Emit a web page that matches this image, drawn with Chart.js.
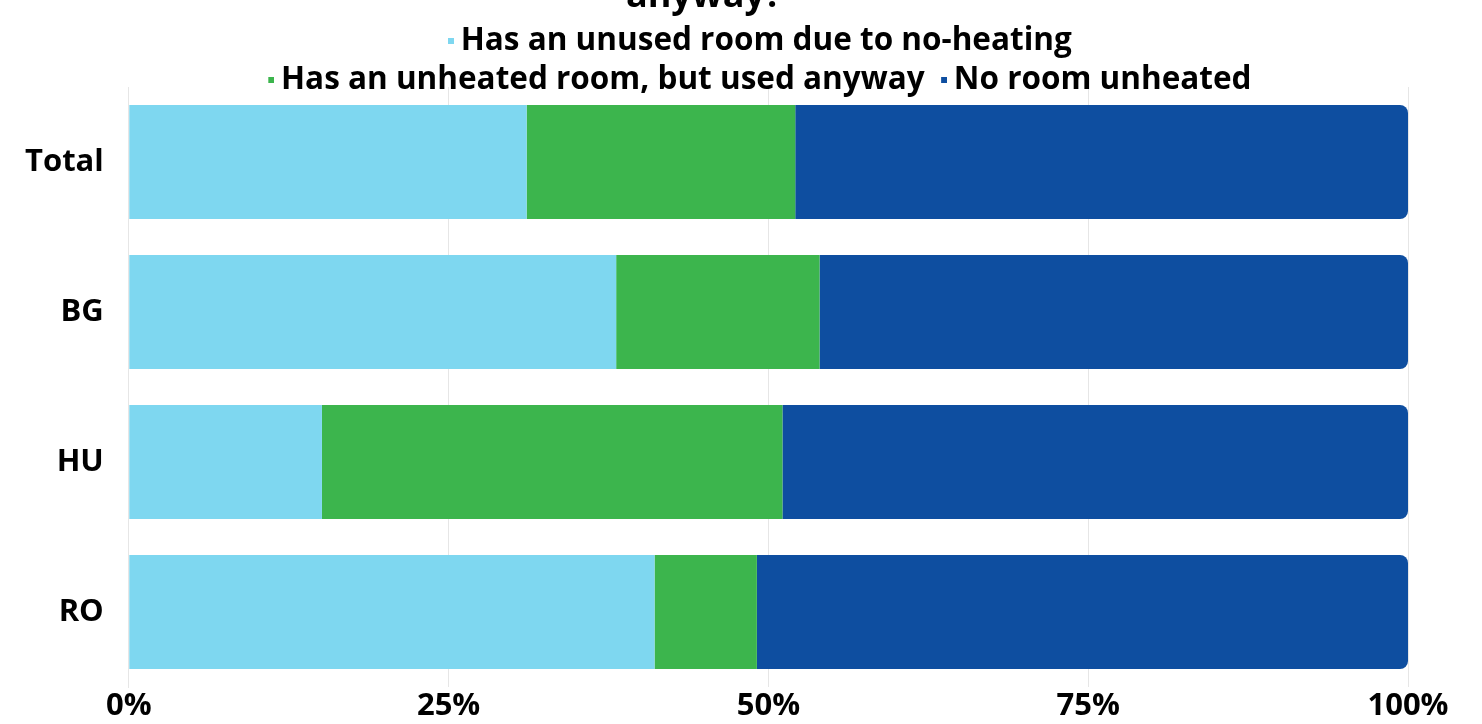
<!DOCTYPE html>
<html><head><meta charset="utf-8">
<script src="https://cdn.jsdelivr.net/npm/chart.js@4"></script>
<style>
html,body{margin:0;padding:0;background:#fff;overflow:hidden;width:1482px;height:724px;}
#wrap{position:absolute;left:0;top:-21px;width:1482px;height:753px;}
</style></head><body>
<div id="wrap"><canvas id="c"></canvas></div>
<script>
const categories = ['Total', 'BG', 'HU', 'RO'];
const seriesLabels = ['Has an unused room due to no-heating', 'Has an unheated room, but used anyway', 'No room unheated'];
const unusedRoom = [31.1, 38.1, 15.1, 41.1];
const unheatedUsed = [21.0, 15.9, 36.0, 8.0];
const noRoomUnheated = [47.9, 46.0, 48.9, 50.9];
const xTickLabels = ['0%', '25%', '50%', '75%', '100%'];
const titleText = ['anyway?'];
const colors = ['#7ED7F0', '#3CB54D', '#0E4EA0'];

const FONT = 'Open Sans';

// small square legend marker placed close to its label
function marker(color) {
  const c = document.createElement('canvas');
  c.width = 24; c.height = 6;
  const g = c.getContext('2d');
  g.fillStyle = color;
  g.fillRect(18, 0, 6, 6);
  return c;
}

const legendTrim = {
  id: 'legendTrim',
  afterInit(chart) {
    const lg = chart.legend;
    if (!lg) return;
    const f = lg.fit;
    lg.fit = function () { f.call(this); this.height = Math.max(0, this.height - 16); };
  },
  afterLayout(chart) {
    const lg = chart.legend;
    if (!lg) return;
    lg.top += 3;
    lg.bottom += 19;
    lg.height += 16;
    lg.left -= 13;
    lg.right -= 13;
  }
};

new Chart(document.getElementById('c'), {
  type: 'bar',
  data: {
    labels: categories,
    datasets: [
      { label: seriesLabels[0], data: unusedRoom, backgroundColor: colors[0], borderWidth: 0, pointStyle: marker(colors[0]) },
      { label: seriesLabels[1], data: unheatedUsed, backgroundColor: colors[1], borderWidth: 0, pointStyle: marker(colors[1]) },
      { label: seriesLabels[2], data: noRoomUnheated, backgroundColor: colors[2], borderWidth: 0, borderRadius: 8, borderSkipped: 'start', pointStyle: marker(colors[2]) }
    ]
  },
  options: {
    indexAxis: 'y',
    responsive: true,
    maintainAspectRatio: false,
    animation: false,
    barPercentage: 0.95,
    categoryPercentage: 0.8,
    layout: { padding: { left: 0, right: 74, top: 0, bottom: 6 } },
    plugins: {
      title: {
        display: true,
        text: titleText,
        color: '#000',
        font: { family: FONT, size: 36, weight: 'bold', lineHeight: 1.0 },
        padding: { top: 0, bottom: 0 }
      },
      legend: {
        position: 'top',
        fullSize: false,
        labels: {
          usePointStyle: true,
          boxWidth: 6,
          boxHeight: 6,
          padding: 7.5,
          color: '#000',
          font: { family: FONT, size: 31.5, weight: 'bold' }
        }
      },
      tooltip: { enabled: false }
    },
    scales: {
      x: {
        stacked: true,
        min: 0,
        max: 100,
        ticks: {
          stepSize: 25,
          padding: 4,
          color: '#000',
          font: { family: FONT, size: 31, weight: 'bold', lineHeight: 1.0 },
          callback: (v, i) => xTickLabels[i]
        },
        grid: { color: '#e6e6e6', lineWidth: 1, drawTicks: false },
        border: { display: false }
      },
      y: {
        stacked: true,
        ticks: {
          padding: 25,
          color: '#000',
          font: { family: FONT, size: 31, weight: 'bold' }
        },
        grid: { display: false, drawTicks: false },
        border: { display: true, color: '#e6e6e6' }
      }
    }
  },
  plugins: [legendTrim]
});
</script>
</body></html>
